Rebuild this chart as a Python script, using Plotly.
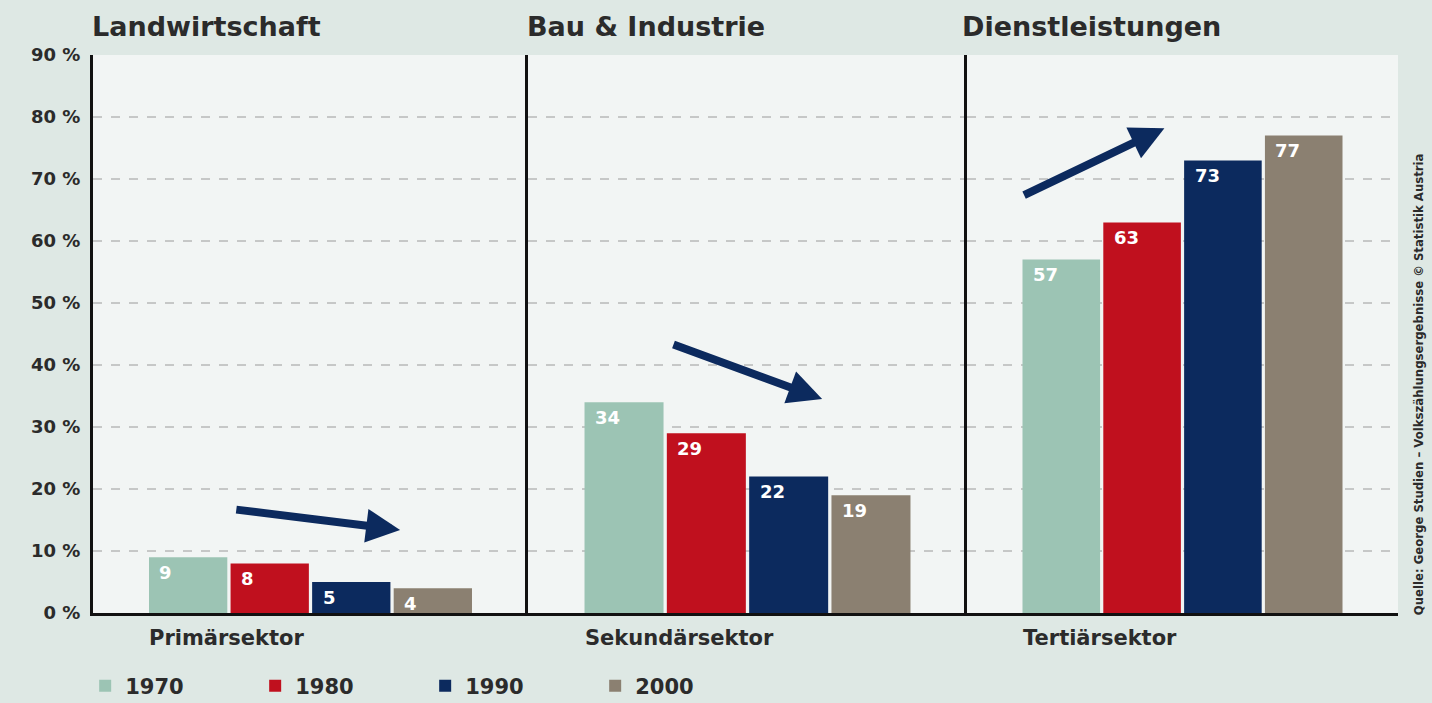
import plotly.graph_objects as go
from plotly.subplots import make_subplots

# data
sectors = ["Primärsektor", "Sekundärsektor", "Tertiärsektor"]
headers = ["Landwirtschaft", "Bau & Industrie", "Dienstleistungen"]
years = ["1970", "1980", "1990", "2000"]
shares = {
    "1970": [9, 34, 57],
    "1980": [8, 29, 63],
    "1990": [5, 22, 73],
    "2000": [4, 19, 77],
}
y_ticks = [0, 10, 20, 30, 40, 50, 60, 70, 80, 90]
grid_lines = [10, 20, 30, 40, 50, 60, 70, 80]
# trend arrows per panel: (start value, end value) in percent
trend_from = [16.7, 43.4, 67.3]
trend_to = [13.4, 34.5, 78.2]

colors = {"1970": "#9cc4b4", "1980": "#c0101e", "1990": "#0c2a5e", "2000": "#8b8071"}
font_family = "DejaVu Sans"
text_color = "#2b2b2b"

W, H = 1432, 703
margin = dict(l=93, r=34, t=55, b=90)
panel_px = [435, 439, 431]
bargap = 0.25

fig = make_subplots(
    rows=1,
    cols=3,
    shared_yaxes=True,
    horizontal_spacing=0,
    column_widths=panel_px,
)

for yi, yr in enumerate(years):
    for si, sec in enumerate(sectors):
        fig.add_trace(
            go.Bar(
                x=[sec],
                y=[shares[yr][si]],
                name=yr,
                legendgroup=yr,
                showlegend=(si == 0),
                marker=dict(color=colors[yr], line=dict(width=0)),
                hoverinfo="skip",
            ),
            row=1,
            col=si + 1,
        )

# value labels, left aligned inside each bar
for si, sec in enumerate(sectors):
    slot = panel_px[si] * (1 - bargap) / len(years)
    for yi, yr in enumerate(years):
        fig.add_annotation(
            x=sec,
            y=shares[yr][si],
            xref=f"x{si + 1}" if si else "x",
            yref="y",
            text=f"<b>{shares[yr][si]}</b>",
            showarrow=False,
            xanchor="left",
            yanchor="middle",
            xshift=(yi - 1.5) * slot - slot / 2 + 10,
            yshift=-15,
            font=dict(size=18, color="white", family=font_family),
        )

# sector labels below the axis and panel headers
for si, sec in enumerate(sectors):
    xref = f"x{si + 1}" if si else "x"
    fig.add_annotation(
        x=-(1 - bargap) / 2,
        y=0,
        xref=xref,
        yref="y",
        text=f"<b>{sec}</b>",
        showarrow=False,
        xanchor="left",
        yanchor="middle",
        yshift=-25,
        font=dict(size=21, color=text_color, family=font_family),
    )
    fig.add_annotation(
        x=0,
        y=1,
        xref=f"{xref} domain",
        yref="paper",
        text=f"<b>{headers[si]}</b>",
        showarrow=False,
        xanchor="left",
        yanchor="middle",
        xshift=-7 if si == 2 else -3,
        yshift=29,
        font=dict(size=27, color=text_color, family=font_family),
    )

# trend arrows
arrow_x = [(-0.174, 0.206), (-0.172, 0.17), (-0.371, -0.042)]
for si in range(3):
    xref = f"x{si + 1}" if si else "x"
    fig.add_annotation(
        x=arrow_x[si][1],
        y=trend_to[si],
        ax=arrow_x[si][0],
        ay=trend_from[si],
        xref=xref,
        yref="y",
        axref=xref,
        ayref="y",
        text="",
        showarrow=True,
        arrowhead=2,
        arrowsize=0.85,
        arrowwidth=8,
        arrowcolor="#0c2a5e",
    )

# dashed grid
for g in grid_lines:
    fig.add_hline(
        y=g,
        line=dict(color="#9a9a9a", width=1, dash="dash"),
        layer="below",
        row="all",
        col="all",
    )

# source text
fig.add_annotation(
    x=1,
    y=0.41,
    xref="paper",
    yref="paper",
    xanchor="center",
    xshift=20,
    text="Quelle: George Studien – Volkszählungsergebnisse © Statistik Austria",
    textangle=-90,
    showarrow=False,
    font=dict(size=13, color=text_color, family="DejaVu Sans Condensed, Roboto Condensed, sans-serif", weight="bold"),
)

fig.update_xaxes(
    showticklabels=False,
    showgrid=False,
    showline=True,
    linecolor="#111111",
    linewidth=3,
    ticks="",
    range=[-0.5, 0.5],
)
fig.update_yaxes(
    range=[0, 90],
    tickvals=y_ticks,
    ticktext=[f"<b>{v} %</b>" for v in y_ticks],
    showgrid=False,
    zeroline=False,
    showline=True,
    linecolor="#111111",
    linewidth=3,
    ticks="",
    ticklabelstandoff=6,
    tickfont=dict(size=18, color=text_color, family=font_family),
)

fig.update_layout(
    width=W,
    height=H,
    margin=margin,
    barmode="group",
    bargap=bargap,
    bargroupgap=0.04,
    plot_bgcolor="#f2f5f4",
    paper_bgcolor="#dee8e4",
    font=dict(family=font_family, color=text_color),
    legend=dict(
        orientation="h",
        x=-0.006,
        y=17 / H,
        xanchor="left",
        yanchor="middle",
        yref="container",
        entrywidth=125,
        entrywidthmode="pixels",
        font=dict(size=21, color=text_color, family=font_family, weight="bold"),
        bgcolor="rgba(0,0,0,0)",
    ),
)

fig.write_html(
    "out.html",
    config={"displayModeBar": False},
    post_script="document.body.style.margin='0';",
)
